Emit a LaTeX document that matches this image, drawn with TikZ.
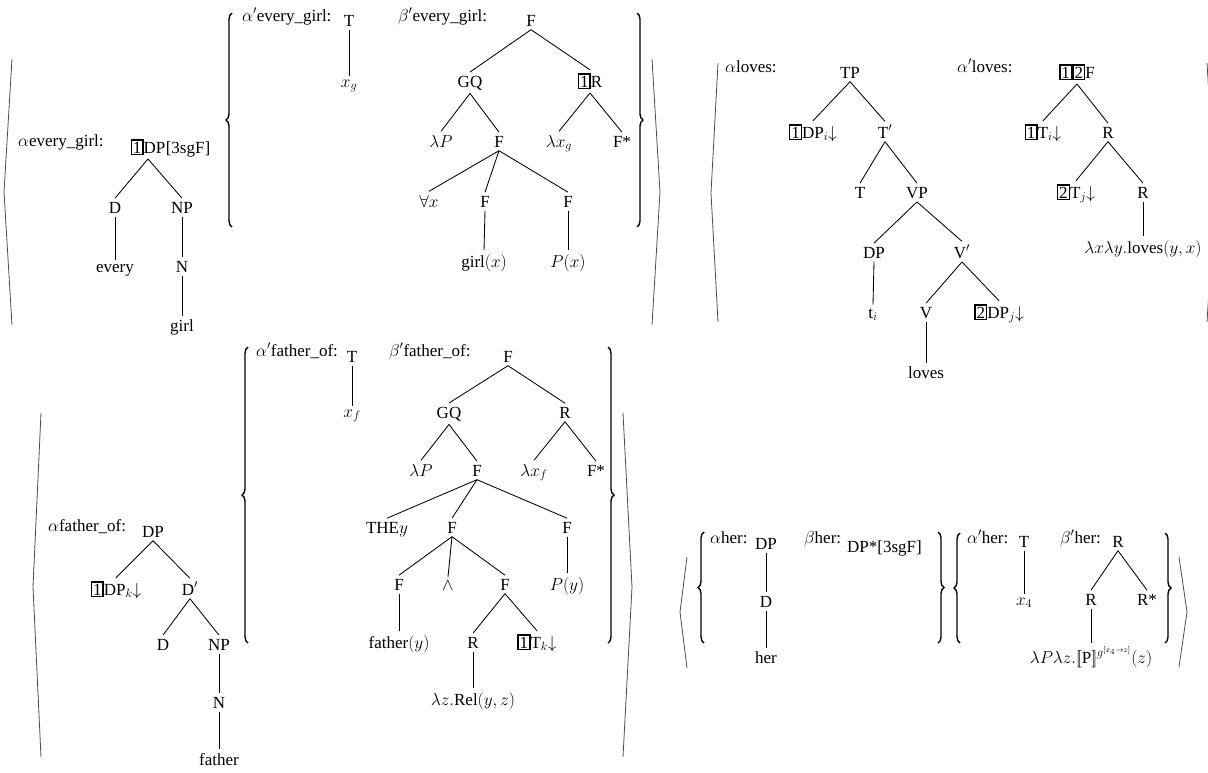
\documentclass[tikz,border=0pt]{standalone}
\usepackage[no-math]{fontspec}
\setmainfont{Liberation Serif}
\usetikzlibrary{decorations.pathreplacing}
\newcommand{\numbox}[1]{{\setlength{\fboxsep}{0.9pt}\setlength{\fboxrule}{1.4pt}\fbox{#1}}}
\newcommand{\fsz}{\fontsize{17pt}{20pt}\selectfont}
\begin{document}
\begin{tikzpicture}[x=1pt,y=-1pt,
 every node/.style={font=\fsz},
 n/.style={anchor=base, inner xsep=0pt, inner ysep=3.5pt},
 lab/.style={anchor=base west, inner sep=0pt},
 tl/.style={line width=0.85pt},
 ang/.style={draw=black!70, line width=0.8pt},
 brc/.style={decorate, decoration={brace, amplitude=6pt}, line width=1.4pt}]
\useasboundingbox (0,0) rectangle (1208,772);

% ===== every_girl =====
\draw[ang] (12,59) -- (4,192) -- (12,325);
\node[lab] (egl) at (18,146) {$\alpha$every\_girl:};
\node[n] (egr) at (148,153) {\numbox{1}DP};
\node[lab] (egf) at (egr.base east) {[3sgF]};
\node[n] (egd) at (115,213) {D};
\node[n] (egnp) at (182,213) {NP};
\node[n] (egev) at (115,272) {every};
\node[n] (egn) at (182,272) {N};
\node[n] (eggi) at (182,331) {girl};
\draw[tl] (egr.south) -- (egd.north);
\draw[tl] (egr.south) -- (egnp.north);
\draw[tl] (egd.south) -- (egev.north);
\draw[tl] (egnp.south) -- (egn.north);
\draw[tl] (egn.south) -- (eggi.north);

\draw[brc] (232,227) -- (232,13);
\node[lab] (apl) at (242,21) {$\alpha'$every\_girl:};
\node[n] (apt) at (349,26) {T};
\node[n] (apx) at (349,87) {$x_g$};
\draw[tl] (apt.south) -- (apx.north);

\node[lab] (bpl) at (398,21) {$\beta'$every\_girl:};
\node[n] (bf) at (531,26) {F};
\node[n] (bgq) at (470,87) {GQ};
\node[n] (br) at (590,87) {\numbox{1}R};
\node[n] (blp) at (441,147) {$\lambda P$};
\node[n] (bf2) at (499,147) {F};
\node[n] (blx) at (559,147) {$\lambda x_g$};
\node[n] (bfs) at (622,147) {F*};
\node[n] (bfa) at (429,207) {$\forall x$};
\node[n] (bf3) at (485,207) {F};
\node[n] (bf4) at (568,207) {F};
\node[n] (bgx) at (484,267) {girl$(x)$};
\node[n] (bpx) at (568,267) {$P(x)$};
\draw[tl] (bf.south) -- (bgq.north);
\draw[tl] (bf.south) -- (br.north);
\draw[tl] (bgq.south) -- (blp.north);
\draw[tl] (bgq.south) -- (bf2.north);
\draw[tl] (br.south) -- (blx.north);
\draw[tl] (br.south) -- (bfs.north);
\draw[tl] (bf2.south) -- (bfa.north);
\draw[tl] (bf2.south) -- (bf3.north);
\draw[tl] (bf2.south) -- (bf4.north);
\draw[tl] (bf3.south) -- (bgx.north);
\draw[tl] (bf4.south) -- (bpx.north);
\draw[brc] (637,13) -- (637,227);
\draw[ang] (652,59) -- (660,192) -- (652,325);

% ===== loves =====
\draw[ang] (718,63) -- (711,193) -- (718,322);
\node[lab] (lvl) at (725,72) {$\alpha$loves:};
\node[n] (ltp) at (850,78) {TP};
\node[n] (ldp) at (813,138) {\numbox{1}DP$_i{\downarrow}$};
\node[n] (ltb) at (885,138) {T$'$};
\node[n] (lt) at (860,198) {T};
\node[n] (lvp) at (917,198) {VP};
\node[n] (ldp2) at (874,258) {DP};
\node[n] (lvb) at (962,258) {V$'$};
\node[n] (lti) at (873,318) {t$_i$};
\node[n] (lv) at (926,318) {V};
\node[n] (ldpj) at (999,318) {\numbox{2}DP$_j{\downarrow}$};
\node[n] (llv) at (926,378) {loves};
\draw[tl] (ltp.south) -- (ldp.north);
\draw[tl] (ltp.south) -- (ltb.north);
\draw[tl] (ltb.south) -- (lt.north);
\draw[tl] (ltb.south) -- (lvp.north);
\draw[tl] (lvp.south) -- (ldp2.north);
\draw[tl] (lvp.south) -- (lvb.north);
\draw[tl] (ldp2.south) -- (lti.north);
\draw[tl] (lvb.south) -- (lv.north);
\draw[tl] (lvb.south) -- (ldpj.north);
\draw[tl] (lv.south) -- (llv.north);

\node[lab] (alvl) at (957,72) {$\alpha'$loves:};
\node[n] (af) at (1077,78) {\numbox{1}\numbox{2}F};
\node[n] (ati) at (1043,138) {\numbox{1}T$_i{\downarrow}$};
\node[n] (ar) at (1108,138) {R};
\node[n] (atj) at (1076,198) {\numbox{2}T$_j{\downarrow}$};
\node[n] (ar2) at (1143,198) {R};
\node[n] (alam) at (1143,253) {$\lambda x\lambda y.$loves$(y,x)$};
\draw[tl] (af.south) -- (ati.north);
\draw[tl] (af.south) -- (ar.north);
\draw[tl] (ar.south) -- (atj.north);
\draw[tl] (ar.south) -- (ar2.north);
\draw[tl] (ar2.south) -- (alam.north);
\draw[ang] (1207,63) -- (1215,193) -- (1207,322);

% ===== father_of =====
\draw[ang] (41,413) -- (33,587) -- (41,757);
\node[lab] (fol) at (48,531) {$\alpha$father\_of:};
\node[n] (fdp) at (153,537) {DP};
\node[n] (fdpk) at (116,595) {\numbox{1}DP$_k{\downarrow}$};
\node[n] (fdb) at (190,595) {D$'$};
\node[n] (fd) at (163,650) {D};
\node[n] (fnp) at (219,650) {NP};
\node[n] (fn) at (219,708) {N};
\node[n] (ffa) at (219,765) {father};
\draw[tl] (fdp.south) -- (fdpk.north);
\draw[tl] (fdp.south) -- (fdb.north);
\draw[tl] (fdb.south) -- (fd.north);
\draw[tl] (fdb.south) -- (fnp.north);
\draw[tl] (fnp.south) -- (fn.north);
\draw[tl] (fn.south) -- (ffa.north);

\draw[brc] (248,643) -- (248,347);
\node[lab] (afl) at (256,356) {$\alpha'$father\_of:};
\node[n] (aft) at (352,362) {T};
\node[n] (afx) at (352,417) {$x_f$};
\draw[tl] (aft.south) -- (afx.north);

\node[lab] (bfl) at (389,356) {$\beta'$father\_of:};
\node[n] (gf) at (508,362) {F};
\node[n] (ggq) at (449,418) {GQ};
\node[n] (gr) at (565,418) {R};
\node[n] (glp) at (421,476) {$\lambda P$};
\node[n] (gf2) at (477,476) {F};
\node[n] (glx) at (534,476) {$\lambda x_f$};
\node[n] (gfs) at (596,476) {F*};
\node[n] (gthe) at (387,533) {THE$y$};
\node[n] (gf3) at (452,533) {F};
\node[n] (gf4) at (567,533) {F};
\node[n] (gf5) at (399,590) {F};
\node[n] (gand) at (448,590) {$\wedge$};
\node[n] (gf6) at (505,590) {F};
\node[n] (gpy) at (567,590) {$P(y)$};
\node[n] (gfy) at (399,648) {father$(y)$};
\node[n] (gr2) at (473,648) {R};
\node[n] (gtk) at (537,648) {\numbox{1}T$_k{\downarrow}$};
\node[n] (grel) at (473,705) {$\lambda z.$Rel$(y,z)$};
\draw[tl] (gf.south) -- (ggq.north);
\draw[tl] (gf.south) -- (gr.north);
\draw[tl] (ggq.south) -- (glp.north);
\draw[tl] (ggq.south) -- (gf2.north);
\draw[tl] (gr.south) -- (glx.north);
\draw[tl] (gr.south) -- (gfs.north);
\draw[tl] (gf2.south) -- (gthe.north);
\draw[tl] (gf2.south) -- (gf3.north);
\draw[tl] (gf2.south) -- (gf4.north);
\draw[tl] (gf3.south) -- (gf5.north);
\draw[tl] (gf3.south) -- (gand.north);
\draw[tl] (gf3.south) -- (gf6.north);
\draw[tl] (gf4.south) -- (gpy.north);
\draw[tl] (gf5.south) -- (gfy.north);
\draw[tl] (gf6.south) -- (gr2.north);
\draw[tl] (gf6.south) -- (gtk.north);
\draw[tl] (gr2.south) -- (grel.north);
\draw[brc] (608,347) -- (608,643);
\draw[ang] (623,413) -- (632,587) -- (623,757);

% ===== her =====
\draw[ang] (687,557) -- (680,612) -- (687,668);
\draw[brc] (704,643) -- (704,532);
\node[lab] (hal) at (710,543) {$\alpha$her:};
\node[n] (hdp) at (766,549) {DP};
\node[n] (hd) at (766,607) {D};
\node[n] (hher) at (766,663) {her};
\draw[tl] (hdp.south) -- (hd.north);
\draw[tl] (hd.south) -- (hher.north);
\node[lab] (hbl) at (804,543) {$\beta$her:};
\node[lab] (hdps) at (847,552) {DP*[3sgF]};
\draw[brc] (938,532) -- (938,643);
\draw[brc] (960,643) -- (960,533);
\node[lab] (hapl) at (967,543) {$\alpha'$her:};
\node[n] (ht) at (1024,547) {T};
\node[n] (hx) at (1024,605) {$x_4$};
\draw[tl] (ht.south) -- (hx.north);
\node[lab] (hbpl) at (1060,543) {$\beta'$her:};
\node[n] (hr) at (1118,547) {R};
\node[n] (hr2) at (1091,605) {R};
\node[n] (hrs) at (1147,605) {R*};
\node[n] (hlam) at (1091,663) {$\lambda P\lambda z.[\![$P$]\!]^{g^{[x_4\to z]}}(z)$};
\draw[tl] (hr.south) -- (hr2.north);
\draw[tl] (hr.south) -- (hrs.north);
\draw[tl] (hr2.south) -- (hlam.north);
\draw[brc] (1165,533) -- (1165,643);
\draw[ang] (1179,557) -- (1187,612) -- (1179,667);
\end{tikzpicture}
\end{document}
